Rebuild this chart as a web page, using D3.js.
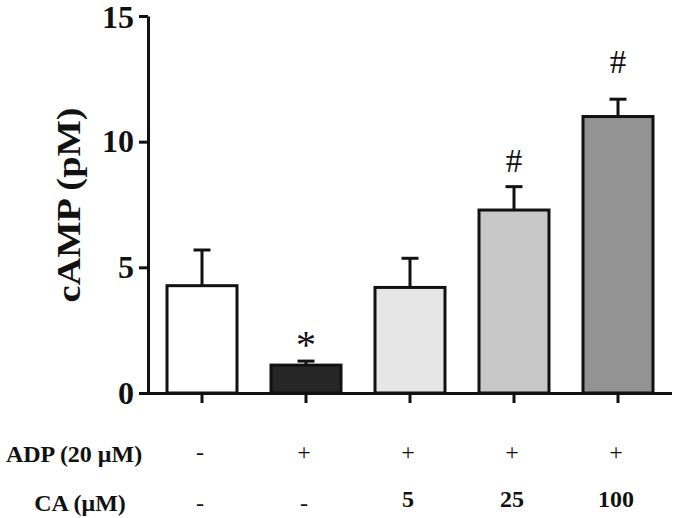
<!DOCTYPE html>
<html><head><meta charset="utf-8">
<script src="https://cdn.jsdelivr.net/npm/d3@7"></script>
<style>body{margin:0;background:#fff}svg{display:block}text{font-family:"Liberation Serif","Times New Roman",Times,serif}</style>
</head><body>
<svg id="c" width="675" height="518"></svg>
<script>
const groups = ["G1","G2","G3","G4","G5"];
const means = [4.27, 1.11, 4.2, 7.28, 11.0];
const errors = [1.42, 0.16, 1.16, 0.93, 0.69];
const fills = ["#ffffff","#262626","#e6e6e6","#c8c8c8","#939393"];
const marks = ["", "*", "", "#", "#"];
const markValues = [null, 1.4, null, 8.8, 12.75];
const adpRow = ["-","+","+","+","+"];
const caRow = ["-","-","5","25","100"];
const yTicks = [0,5,10,15];

const svg = d3.select("#c");
const y = d3.scaleLinear().domain([0,15]).range([393,16]);
const x = d3.scaleBand().domain(groups).range([150,670]).paddingInner(0.327).paddingOuter(0.1635);

// y axis
const ya = svg.append("g").attr("transform","translate(148,0)")
  .call(d3.axisLeft(y).tickValues(yTicks).tickSize(9).tickSizeOuter(0).tickPadding(5));
ya.attr("font-family",null);
ya.select(".domain").attr("stroke","#111").attr("stroke-width",3);
ya.selectAll(".tick line").attr("stroke","#111").attr("stroke-width",3);
ya.selectAll(".tick text").attr("font-weight","bold").attr("font-size",32).attr("fill","#111")
  .attr("dy",(d)=> d===15 ? "0.36em" : "0.32em");

// x axis
const xa = svg.append("g").attr("transform","translate(0,393)")
  .call(d3.axisBottom(x).tickSize(10).tickSizeOuter(0).tickFormat(""));
xa.select(".domain").attr("d","M146.5,0.5H672").attr("stroke","#111").attr("stroke-width",3);
xa.selectAll(".tick line").attr("stroke","#111").attr("stroke-width",3);

// bars
svg.append("g").selectAll("rect").data(groups).join("rect")
  .attr("x",d=>x(d)).attr("width",x.bandwidth())
  .attr("y",(d,i)=>y(means[i])).attr("height",(d,i)=>y(0)-y(means[i]))
  .attr("fill",(d,i)=>fills[i]).attr("stroke","#111").attr("stroke-width",3);

// error bars
const eb = svg.append("g").attr("stroke","#111").attr("stroke-width",3);
groups.forEach((g,i)=>{
  const cx = x(g)+x.bandwidth()/2;
  eb.append("line").attr("x1",cx).attr("x2",cx).attr("y1",y(means[i])).attr("y2",y(means[i]+errors[i]));
  eb.append("line").attr("x1",cx-8.5).attr("x2",cx+8.5).attr("y1",y(means[i]+errors[i])).attr("y2",y(means[i]+errors[i]));
});

// significance marks
groups.forEach((g,i)=>{
  if(!marks[i]) return;
  svg.append("text").attr("x",x(g)+x.bandwidth()/2).attr("y",y(markValues[i]))
    .attr("text-anchor","middle").attr("font-size",marks[i]==="*"?40:33).attr("fill","#111").text(marks[i]);
});

// y label
svg.append("text").attr("transform","translate(80,205) rotate(-90)")
  .attr("text-anchor","middle").attr("font-weight","bold")
  .attr("font-size",33).attr("textLength",195).attr("lengthAdjust","spacingAndGlyphs")
  .attr("fill","#111").text("cAMP (pM)");

// treatment rows
svg.append("text").attr("x",74).attr("y",462).attr("text-anchor","middle")
  .attr("font-weight","bold").attr("font-size",24).attr("fill","#111").text("ADP (20 μM)");
svg.append("text").attr("x",80).attr("y",511).attr("text-anchor","middle")
  .attr("font-weight","bold").attr("font-size",24).attr("fill","#111").text("CA (μM)");
groups.forEach((g,i)=>{
  const cx = x(g)+x.bandwidth()/2;
  svg.append("text").attr("x",cx-2).attr("y",460).attr("text-anchor","middle")
    .attr("font-size",24).attr("fill","#111").text(adpRow[i]);
  const isNum = caRow[i] !== "-";
  svg.append("text").attr("x",cx-2).attr("y",isNum?507:511).attr("text-anchor","middle")
    .attr("font-weight",isNum?"bold":"normal").attr("font-size",24).attr("fill","#111").text(caRow[i]);
});
</script>
</body></html>
